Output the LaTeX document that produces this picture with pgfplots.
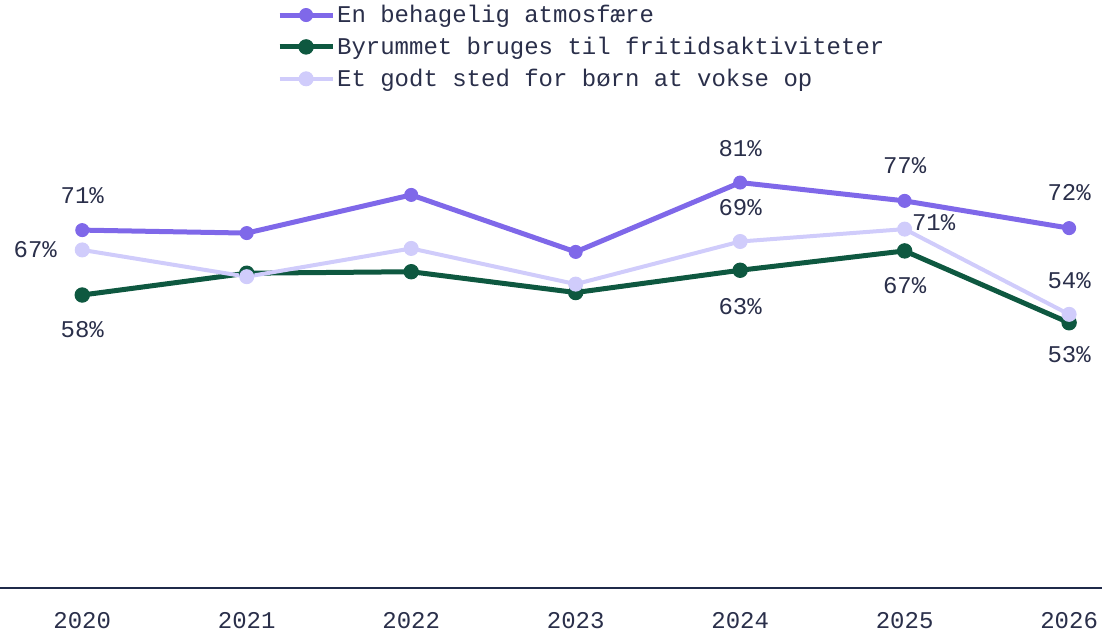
\documentclass[border=0pt]{standalone}
\usepackage{pgfplots}
\pgfplotsset{compat=1.18}
\usepackage{fontspec}
\setmainfont{Liberation Mono}
\setmonofont{Liberation Mono}
\definecolor{cpurple}{HTML}{7F68E9}
\definecolor{cgreen}{HTML}{0E5840}
\definecolor{clight}{HTML}{D0CCFB}
\definecolor{ctext}{HTML}{2A2F4A}
\definecolor{caxis}{HTML}{1F2A4A}
\tikzset{lbl/.style={font=\fontsize{12}{14}\selectfont, text=ctext, anchor=center}}
\begin{document}
\begin{tikzpicture}
\path[use as bounding box] (0,-23pt) rectangle (551pt,294pt);
\begin{axis}[
  at={(0,0)}, anchor=south west,
  scale only axis,
  width=551pt, height=250.3pt,
  xmin=2019.5, xmax=2026.2,
  ymin=-1.03, ymax=100,
  axis x line=bottom, axis y line=none,
  x axis line style={-, draw=caxis, line width=0.6pt},
  xtick={2020,2021,2022,2023,2024,2025,2026},
  ytick=\empty,
  major tick length=0pt,
  /pgf/number format/1000 sep={},
  /pgf/number format/assume math mode=true,
  xticklabel style={font=\fontsize{12}{14}\selectfont, text=ctext, anchor=base, yshift=-20pt},
  clip=false,
  legend style={draw=none, fill=none, at={(axis description cs:0.252,1)}, anchor=south west,
    xshift=-1.5pt, yshift=-4pt,
    font=\fontsize{12}{14}\selectfont, text=ctext, cells={anchor=west}, row sep=1.75pt, inner sep=1pt,
    /tikz/every odd column/.append style={column sep=-1pt}},
  legend image code/.code={\draw[mark repeat=2,mark phase=2,#1] plot coordinates {(0pt,0pt) (13.25pt,0pt) (26.5pt,0pt)};},
]
\addplot[cpurple, line width=2.5pt, mark=*, mark size=3.25pt, mark options={fill=cpurple, draw=cpurple, line width=0.5pt}]
  coordinates {(2020,71.2) (2021,70.6) (2022,78.3) (2023,66.8) (2024,80.8) (2025,77.1) (2026,71.6)};
\addlegendentry{En behagelig atmosfære}
\addplot[cgreen, line width=2.5pt, mark=*, mark size=3.6pt, mark options={fill=cgreen, draw=cgreen, line width=0.5pt}]
  coordinates {(2020,58.1) (2021,62.5) (2022,62.8) (2023,58.6) (2024,63.1) (2025,67.0) (2026,52.5)};
\addlegendentry{Byrummet bruges til fritidsaktiviteter}
\addplot[clight, line width=2pt, mark=*, mark size=3.5pt, mark options={fill=clight, draw=clight, line width=0.5pt}]
  coordinates {(2020,67.2) (2021,61.8) (2022,67.5) (2023,60.3) (2024,68.9) (2025,71.4) (2026,54.2)};
\addlegendentry{Et godt sted for børn at vokse op}

\node[lbl, yshift=17.5pt] at (axis cs:2020,71.2) {71\%};
\node[lbl, yshift=16.75pt] at (axis cs:2024,80.8) {81\%};
\node[lbl, yshift=17.5pt] at (axis cs:2025,77.1) {77\%};
\node[lbl, yshift=18pt] at (axis cs:2026,71.6) {72\%};

\node[lbl, yshift=-17.5pt] at (axis cs:2020,58.1) {58\%};
\node[lbl, yshift=-18pt] at (axis cs:2024,63.1) {63\%};
\node[lbl, yshift=-17.5pt] at (axis cs:2025,67.0) {67\%};
\node[lbl, yshift=-16pt] at (axis cs:2026,52.5) {53\%};

\node[lbl, xshift=-23.5pt] at (axis cs:2020,67.2) {67\%};
\node[lbl, yshift=17pt] at (axis cs:2024,68.9) {69\%};
\node[lbl, xshift=14.5pt, yshift=3.5pt] at (axis cs:2025,71.4) {71\%};
\node[lbl, yshift=16.75pt] at (axis cs:2026,54.2) {54\%};
\end{axis}
\end{tikzpicture}
\end{document}
